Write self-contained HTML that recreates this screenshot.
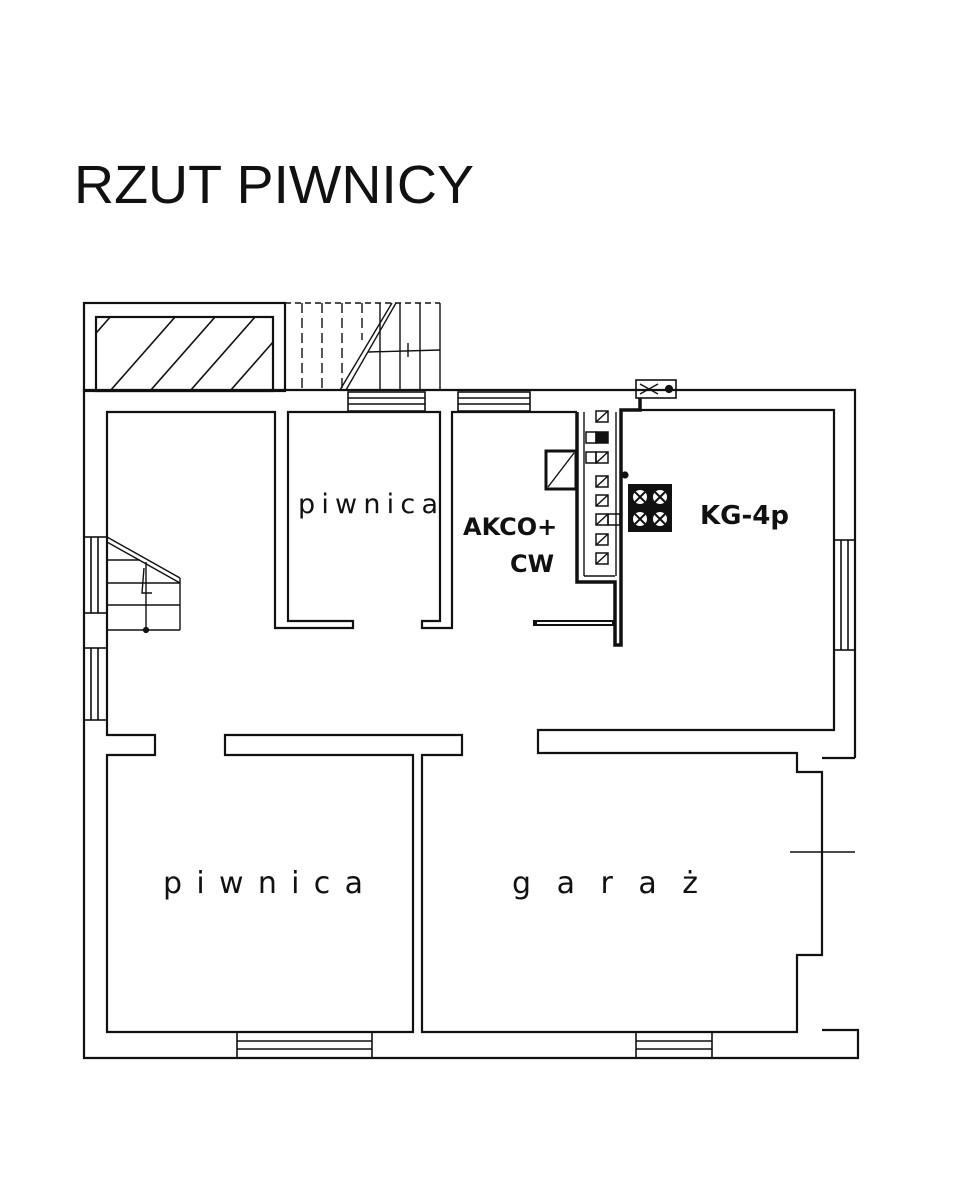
<!DOCTYPE html>
<html><head><meta charset="utf-8"><style>
body{margin:0;background:#fff}
svg{display:block}
</style></head><body>
<svg width="971" height="1200" viewBox="0 0 971 1200" xmlns="http://www.w3.org/2000/svg">
<rect width="971" height="1200" fill="#fff"/>
<text x="74" y="203" font-family="Liberation Sans, sans-serif" font-size="54" fill="#111" textLength="400" lengthAdjust="spacingAndGlyphs">RZUT PIWNICY</text>
<g fill="none" stroke="#111" stroke-width="2.2">
<rect x="84" y="303" width="201" height="88"/>
<rect x="96" y="317" width="177" height="74"/>
<clipPath id="hc"><rect x="96" y="317" width="177" height="74"/></clipPath>
<g clip-path="url(#hc)" stroke-width="1.6">
<line x1="110" y1="391" x2="190" y2="300"/>
<line x1="150" y1="391" x2="230" y2="300"/>
<line x1="190" y1="391" x2="270" y2="300"/>
<line x1="230" y1="391" x2="310" y2="300"/>
<line x1="90" y1="340" x2="140" y2="283"/>
</g>
<g stroke-width="1.4">
<line x1="285" y1="303" x2="440" y2="303" stroke-dasharray="6,4"/>
<line x1="302" y1="303" x2="302" y2="390" stroke-dasharray="10,5"/>
<line x1="322" y1="303" x2="322" y2="390" stroke-dasharray="10,5"/>
<line x1="342" y1="303" x2="342" y2="390" stroke-dasharray="10,5"/>
<line x1="362" y1="303" x2="362" y2="340" stroke-dasharray="10,5"/>
<line x1="380" y1="303" x2="380" y2="390"/>
<line x1="400" y1="303" x2="400" y2="390"/>
<line x1="420" y1="303" x2="420" y2="390"/>
<line x1="440" y1="303" x2="440" y2="390"/>
<line x1="340" y1="390" x2="392" y2="303"/>
<line x1="346" y1="390" x2="396" y2="303"/>
<line x1="368" y1="352" x2="440" y2="350"/>
<line x1="408" y1="343" x2="408" y2="357"/>
</g>
<polyline points="855,758 855,390 84,390 84,1058 858,1058 858,1030 822,1030"/>
<polyline points="107,720 107,412 275,412 275,628 353,628 353,621 288,621 288,412 440,412 440,621 422,621 422,628 452,628 452,412 577,412"/>
<polyline points="627,410 834,410 834,730 538,730 538,753 797,753 797,772 822,772 822,955 797,955 797,1032 422,1032 422,755 462,755 462,735 225,735 225,755 413,755 413,1032 107,1032 107,755 155,755 155,735 107,735 107,720"/>
<line x1="855" y1="758" x2="822" y2="758"/>
<line x1="790" y1="852" x2="855" y2="852" stroke-width="1.6"/>
<g stroke-width="1.6">
<rect x="348" y="392" width="77" height="19"/><line x1="348" y1="398" x2="425" y2="398"/><line x1="348" y1="404" x2="425" y2="404"/>
<rect x="458" y="392" width="72" height="19"/><line x1="458" y1="398" x2="530" y2="398"/><line x1="458" y1="404" x2="530" y2="404"/>
<rect x="834" y="540" width="21" height="110"/><line x1="841" y1="540" x2="841" y2="650"/><line x1="848" y1="540" x2="848" y2="650"/>
<rect x="84" y="537" width="23" height="76"/><line x1="91" y1="537" x2="91" y2="613"/><line x1="98" y1="537" x2="98" y2="613"/>
<rect x="84" y="648" width="23" height="72"/><line x1="91" y1="648" x2="91" y2="720"/><line x1="98" y1="648" x2="98" y2="720"/>
<rect x="237" y="1032" width="135" height="26"/><line x1="237" y1="1041" x2="372" y2="1041"/><line x1="237" y1="1049" x2="372" y2="1049"/>
<rect x="636" y="1032" width="76" height="26"/><line x1="636" y1="1041" x2="712" y2="1041"/><line x1="636" y1="1049" x2="712" y2="1049"/>
</g>
<g stroke-width="1.4">
<line x1="107" y1="537" x2="180" y2="578"/><line x1="107" y1="542" x2="180" y2="583"/>
<line x1="107" y1="560" x2="140" y2="560"/>
<line x1="107" y1="583" x2="180" y2="583"/>
<line x1="107" y1="605" x2="180" y2="605"/>
<line x1="107" y1="630" x2="180" y2="630"/>
<line x1="180" y1="578" x2="180" y2="630"/>
<line x1="146" y1="562" x2="146" y2="630"/>
<polyline points="144,568 142,593 152,593"/>
</g>
<circle cx="146" cy="630" r="2" fill="#111"/>
<polyline points="577,412 577,582 615,582 615,645 621,645 621,410 640,410 640,398" stroke-width="3.5"/>
<polyline points="533,623 614,623" stroke-width="6" stroke="#111"/>
<line x1="537" y1="623" x2="612" y2="623" stroke="#fff" stroke-width="2"/>
<line x1="584" y1="412" x2="584" y2="576" stroke-width="1.4"/>
<line x1="584" y1="576" x2="615" y2="576" stroke-width="1.4"/>
<line x1="616" y1="412" x2="616" y2="576" stroke-width="1.4"/>
<rect x="546" y="451" width="30" height="38" stroke-width="3"/>
<line x1="548" y1="487" x2="574" y2="453" stroke-width="1.4"/>
<rect x="636" y="380" width="40" height="18" stroke-width="1.6"/>
<line x1="640" y1="384" x2="658" y2="394" stroke-width="1.4"/><line x1="640" y1="394" x2="658" y2="384" stroke-width="1.4"/>
<circle cx="669" cy="389" r="3" fill="#111"/>
<circle cx="625" cy="475" r="2.5" fill="#111"/>
</g>
<g fill="none" stroke="#111" stroke-width="1.5">
<rect x="596" y="411" width="12" height="11"/><line x1="596" y1="422" x2="608" y2="411"/>
<rect x="596" y="432" width="12" height="11" fill="#111"/><rect x="586" y="432" width="10" height="11"/>
<rect x="596" y="452" width="12" height="11"/><line x1="596" y1="463" x2="608" y2="452"/><rect x="586" y="452" width="10" height="11"/>
<rect x="596" y="476" width="12" height="11"/><line x1="596" y1="487" x2="608" y2="476"/>
<rect x="596" y="495" width="12" height="11"/><line x1="596" y1="506" x2="608" y2="495"/>
<rect x="596" y="514" width="12" height="11"/><line x1="596" y1="525" x2="608" y2="514"/><rect x="608" y="514" width="12" height="11"/>
<rect x="596" y="534" width="12" height="11"/><line x1="596" y1="545" x2="608" y2="534"/>
<rect x="596" y="553" width="12" height="11"/><line x1="596" y1="564" x2="608" y2="553"/>
</g>
<rect x="628" y="484" width="44" height="48" fill="#111"/>
<g fill="#fff"><circle cx="640" cy="497" r="7"/><circle cx="660" cy="497" r="7"/><circle cx="640" cy="519" r="7"/><circle cx="660" cy="519" r="7"/></g>
<g stroke="#111" stroke-width="2"><line x1="635" y1="492" x2="645" y2="502"/><line x1="645" y1="492" x2="635" y2="502"/><line x1="655" y1="492" x2="665" y2="502"/><line x1="665" y1="492" x2="655" y2="502"/><line x1="635" y1="514" x2="645" y2="524"/><line x1="645" y1="514" x2="635" y2="524"/><line x1="655" y1="514" x2="665" y2="524"/><line x1="665" y1="514" x2="655" y2="524"/></g>
<g font-family="DejaVu Sans, sans-serif" fill="#111">
<text x="298" y="513" font-size="27" textLength="140" lengthAdjust="spacing">piwnica</text>
<text x="163" y="893" font-size="30" textLength="200" lengthAdjust="spacing">piwnica</text>
<text x="512" y="893" font-size="30" textLength="186" lengthAdjust="spacing">garaż</text>
<text x="463" y="535" font-size="24" font-weight="bold">AKCO+</text>
<text x="510" y="572" font-size="24" font-weight="bold">CW</text>
<text x="700" y="524" font-size="26" font-weight="bold">KG-4p</text>
</g>
</svg>
</body></html>
